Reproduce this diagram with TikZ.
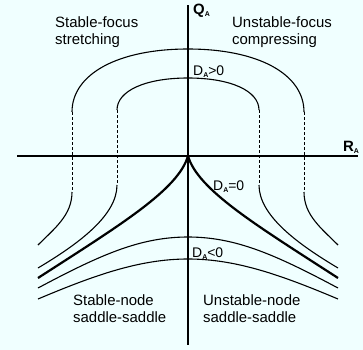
\documentclass[tikz,border=0pt]{standalone}
\usepackage{fontspec}
\setmainfont{Liberation Sans}
\definecolor{bgc}{HTML}{F0FFFF}
\newcommand\lowA{\raisebox{-2.5bp}{\fontsize{7}{7}\selectfont\bfseries A}}
\begin{document}
\begin{tikzpicture}[x=1bp,y=-1bp,
  curve/.style={line width=1.1bp},
  thickcurve/.style={line width=2.2bp},
  axis/.style={line width=1.4bp},
  brk/.style={line width=0.9bp, dash pattern=on 2.5bp off 2.5bp},
  lbl/.style={font=\fontsize{15}{16}\selectfont, inner sep=0pt, anchor=base west},
  dlbl/.style={font=\fontsize{14}{15}\selectfont, inner sep=0pt, anchor=base west},
  axlbl/.style={font=\fontsize{15}{16}\selectfont\bfseries, inner sep=0pt, anchor=base west}]
\path[use as bounding box, fill=bgc] (0,0) rectangle (363,350);
% axes
\coordinate (xl) at (17,156);
\coordinate (xr) at (358,156);
\coordinate (yt) at (188,5);
\coordinate (yb) at (188,345);
\coordinate (o) at (188,156);
\draw[axis] (xl) -- (xr);
\draw[axis] (yt) -- (yb);
% outer D>0 curve
\draw[curve] (72,112) .. controls (72,74) and (118,49) .. (188,49) .. controls (258,49) and (304,74) .. (304,112);
\draw[brk] (72,112) -- (72,192);
\draw[brk] (304,112) -- (304,192);
\draw[curve] (72,192) .. controls (72,215) and (55,228) .. (38,245);
\draw[curve] (304,192) .. controls (304,215) and (321,228) .. (338,245);
% inner D>0 curve
\draw[curve] (117,110) .. controls (117,91) and (145,78) .. (188,78) .. controls (231,78) and (259,91) .. (259,110);
\draw[brk] (117,110) -- (117,185);
\draw[brk] (259,110) -- (259,185);
\draw[curve] (117,185) .. controls (117,215) and (80,243) .. (38,268);
\draw[curve] (259,185) .. controls (259,215) and (296,243) .. (338,268);
% D=0
\draw[thickcurve] (38,278) .. controls (120,225) and (178,190) .. (o) .. controls (198,190) and (256,225) .. (338,278);
% D<0 curves
\draw[curve] (38,288) .. controls (100,255) and (140,237) .. (188,237) .. controls (236,237) and (276,255) .. (338,288);
\draw[curve] (38,299) .. controls (95,275) and (140,259) .. (188,259) .. controls (236,259) and (281,275) .. (338,299);
% labels
\node[axlbl] (qa) at (193,14) {Q\lowA};
\node[axlbl] (ra) at (343,151) {R\lowA};
\node[lbl] (sf1) at (55,27) {Stable-focus};
\node[lbl] (sf2) at (55,44) {stretching};
\node[lbl] (uf1) at (232,27) {Unstable-focus};
\node[lbl] (uf2) at (232,44) {compressing};
\node[lbl] (sn1) at (73,305) {Stable-node};
\node[lbl] (sn2) at (73,322) {saddle-saddle};
\node[lbl] (un1) at (203,305) {Unstable-node};
\node[lbl] (un2) at (203,322) {saddle-saddle};
\node[dlbl] (dpos) at (193,75) {D\lowA{}>0};
\node[dlbl] (dzero) at (213,190) {D\lowA{}=0};
\node[dlbl] (dneg) at (192,257) {D\lowA{}<0};
\end{tikzpicture}
\end{document}
